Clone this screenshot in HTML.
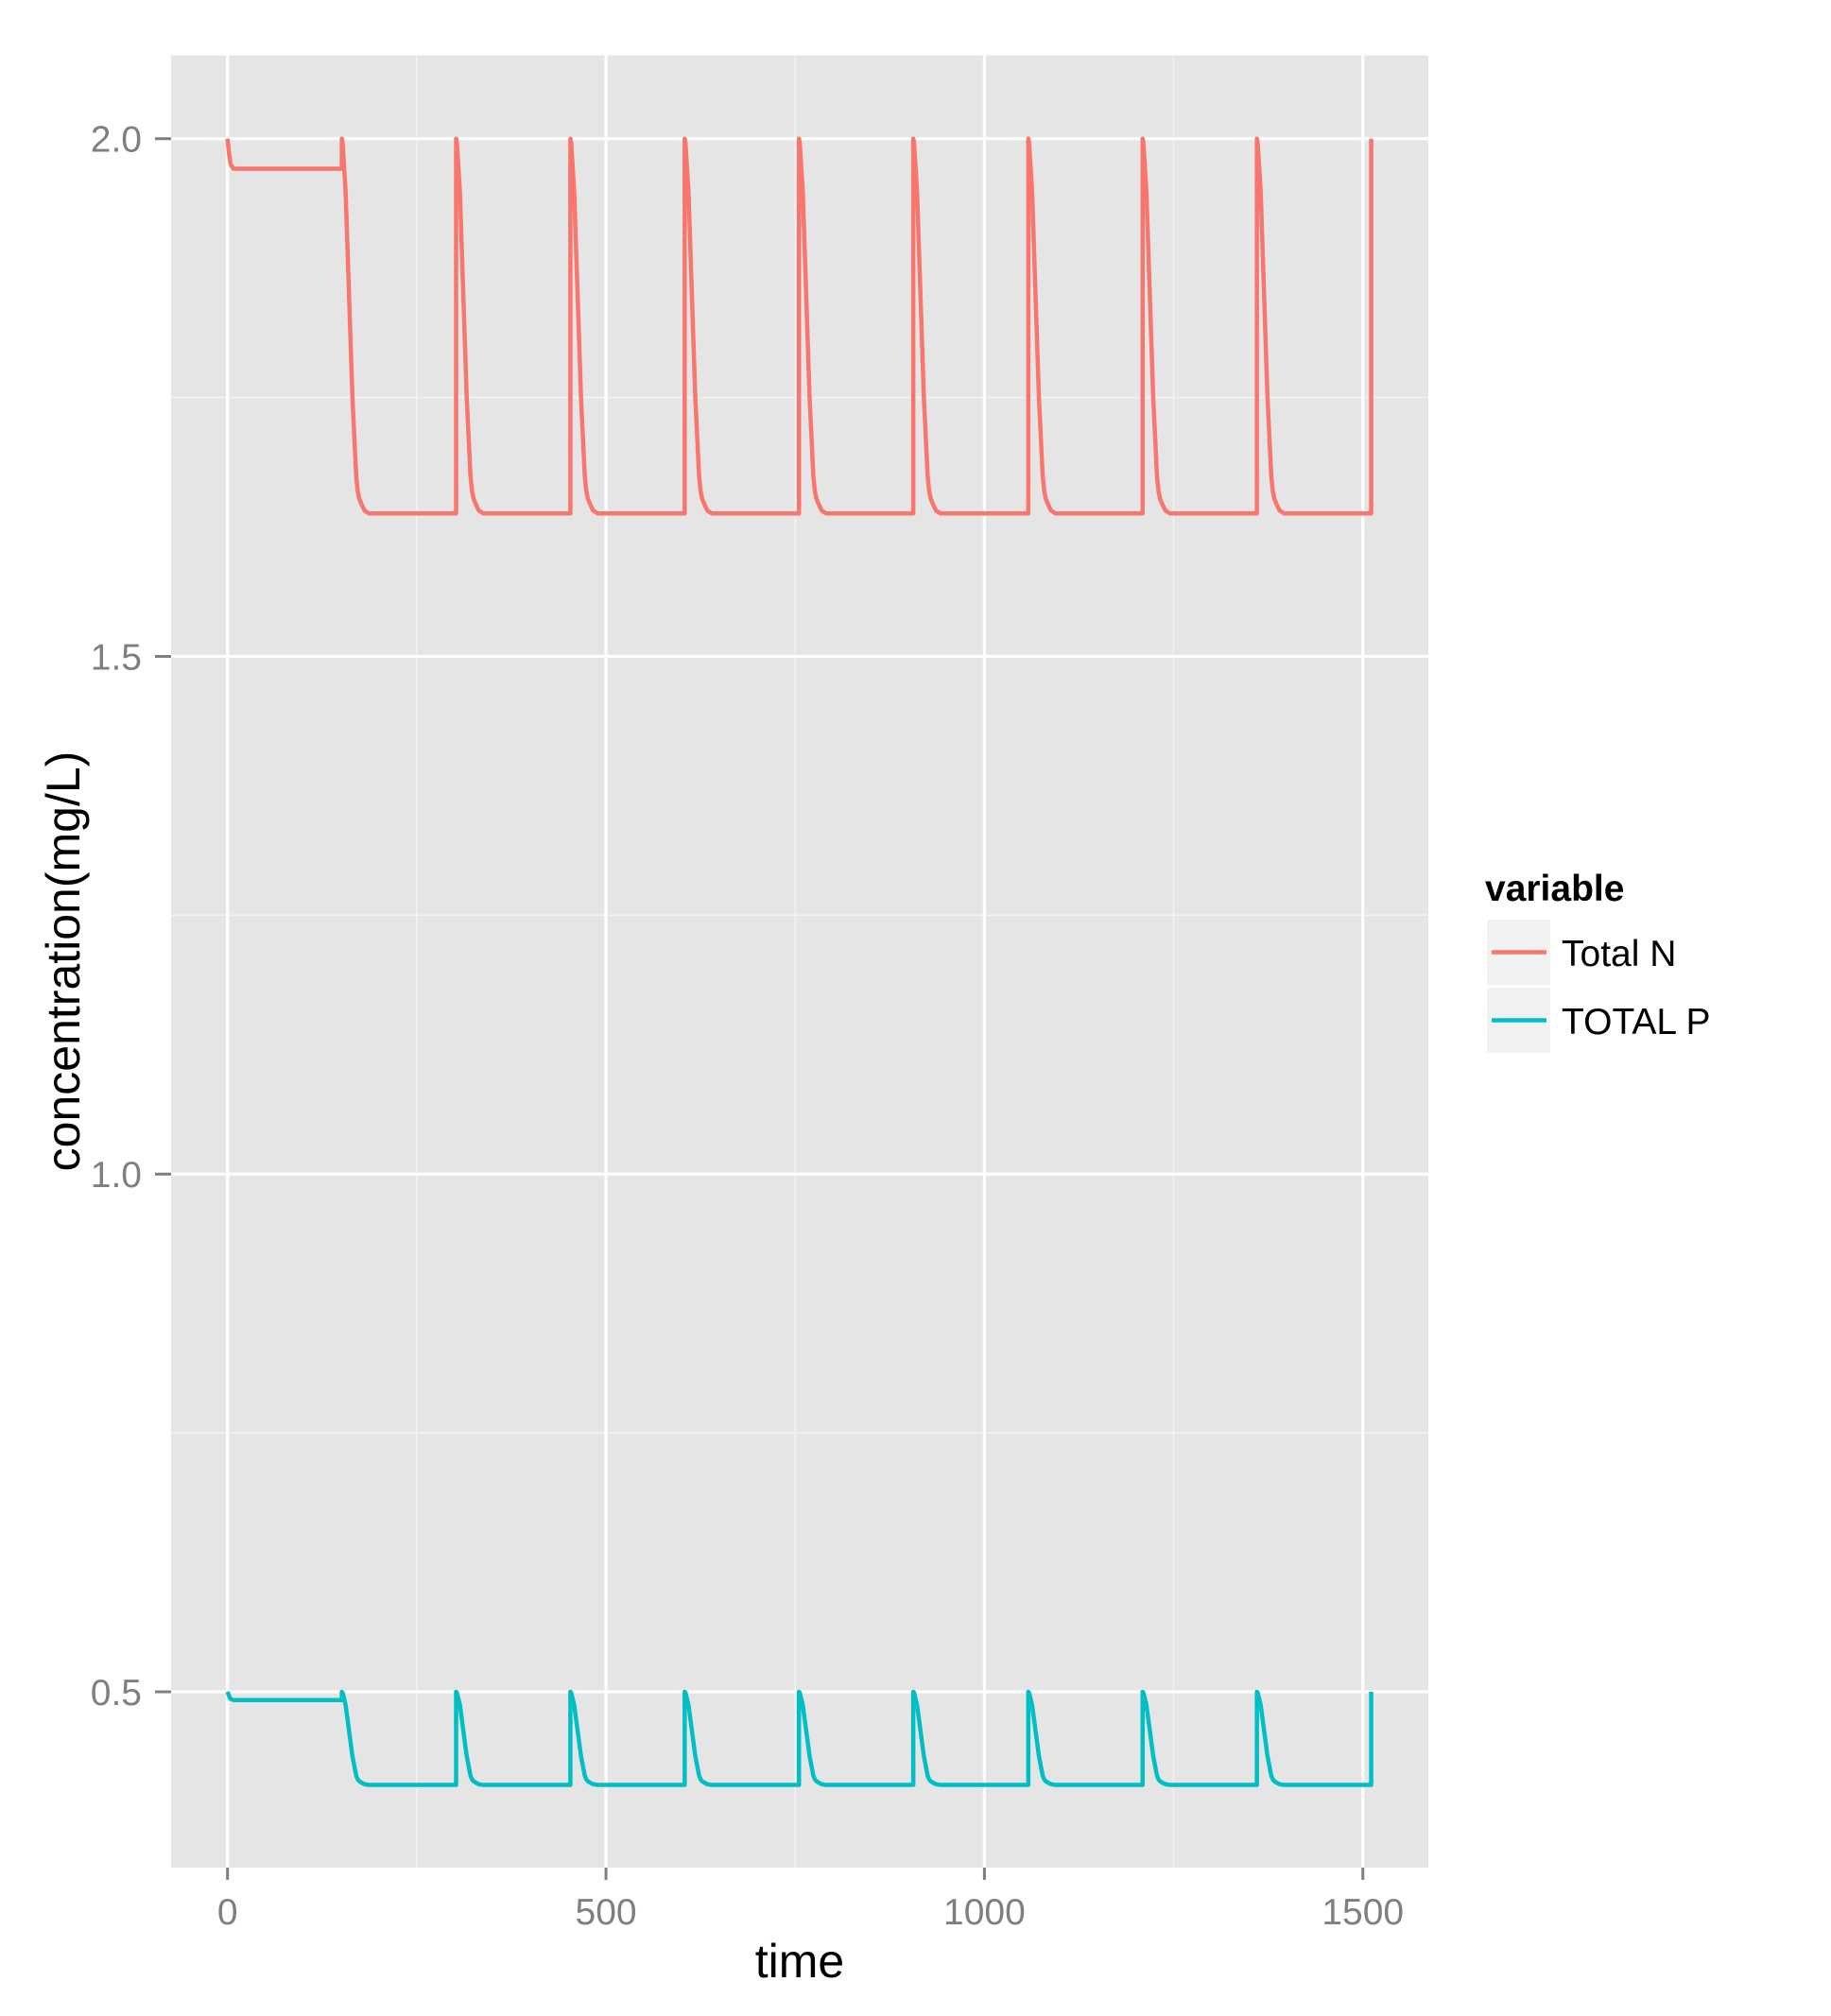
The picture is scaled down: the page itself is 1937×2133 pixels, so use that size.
<!DOCTYPE html>
<html><head><meta charset="utf-8"><style>
html,body{margin:0;padding:0;background:#fff;}
svg{display:block;font-family:"Liberation Sans",Arial,sans-serif;}
</style></head><body>
<svg id="chart" width="1937" height="2133" viewBox="0 0 1937 2133" xmlns="http://www.w3.org/2000/svg">
<rect x="0" y="0" width="1937" height="2133" fill="#ffffff"/>
<rect x="181" y="58.5" width="1330" height="1917.5" fill="#e5e5e5"/>
<g id="grid"></g>
<g id="series"></g>
<g id="axes"></g>
<text x="846" y="2092" font-size="50" text-anchor="middle" fill="#000">time</text>
<text transform="translate(84,1017) rotate(-90)" font-size="50" text-anchor="middle" fill="#000">concentration(mg/L)</text>
<g>
<text x="1571" y="953" font-size="39" font-weight="bold" fill="#000">variable</text>
<rect x="1573" y="973" width="67" height="69" fill="#f2f2f2"/>
<line x1="1578" y1="1007.5" x2="1636" y2="1007.5" stroke="#F8766D" stroke-width="4.5"/>
<text x="1652" y="1022" font-size="39" fill="#000">Total N</text>
<rect x="1573" y="1045" width="67" height="69" fill="#f2f2f2"/>
<line x1="1578" y1="1079.5" x2="1636" y2="1079.5" stroke="#00BFC4" stroke-width="4.5"/>
<text x="1652" y="1094" font-size="39" fill="#000">TOTAL P</text>
</g>
</svg>
<script>
const xTicks = [0, 500, 1000, 1500];
const xMinor = [250, 750, 1250];
const yTicks = [0.5, 1.0, 1.5, 2.0];
const yTickLabels = ["0.5", "1.0", "1.5", "2.0"];
const yMinor = [0.75, 1.25, 1.75];
const spikeTimes = [151, 302, 453, 604, 755, 906, 1058, 1209, 1360, 1511];
const decayDt = [0, 1, 5, 14, 19, 21, 23, 26, 30, 36];
const decayFrac = [1, 0.99, 0.86, 0.31, 0.10, 0.06, 0.04, 0.025, 0.008, 0];
const nHigh = 2.0, nLow = 1.638, nFirstPlateau = 1.971;
const pHigh = 0.5, pLow = 0.41, pFirstPlateau = 0.492;
const startDt = [0, 2, 4, 8];
const startFrac = [1, 0.5, 0.15, 0];

const NS = "http://www.w3.org/2000/svg";
const X0 = 240.7, XS = 0.8007, Y0 = 146.7, YS = 1095.5;
const PL = 181, PR = 1511, PT = 58.5, PB = 1976;
function xs(t){ return X0 + t * XS; }
function ys(v){ return Y0 + (2.0 - v) * YS; }
function mk(tag, attrs, parent){ const e = document.createElementNS(NS, tag); for (const k in attrs) e.setAttribute(k, attrs[k]); parent.appendChild(e); return e; }

const grid = document.getElementById('grid');
xMinor.forEach(t => {
  const l = mk('line', {x1: xs(t), x2: xs(t), y1: PT, y2: PB, stroke: '#f2f2f2', 'stroke-width': 1.6}, grid);
  
  
});
yMinor.forEach(v => {
  const l = mk('line', {x1: PL, x2: PR, y1: ys(v), y2: ys(v), stroke: '#f2f2f2', 'stroke-width': 1.6}, grid);
  
  
});
xTicks.forEach(t => {
  const l = mk('line', {x1: xs(t), x2: xs(t), y1: PT, y2: PB, stroke: '#ffffff', 'stroke-width': 3.2}, grid);
  
  
});
yTicks.forEach(v => {
  const l = mk('line', {x1: PL, x2: PR, y1: ys(v), y2: ys(v), stroke: '#ffffff', 'stroke-width': 3.2}, grid);
  
  
});

function buildSeries(high, low, first){
  const pts = [];
  startDt.forEach((d, i) => pts.push([d, first + startFrac[i] * (high - first)]));
  pts.push([spikeTimes[0], first]);
  spikeTimes.forEach((t0, k) => {
    if (k > 0) pts.push([t0, low]);
    if (k === spikeTimes.length - 1) { pts.push([t0, high]); return; }
    decayDt.forEach((d, i) => pts.push([t0 + d, low + decayFrac[i] * (high - low)]));
  });
  return pts;
}
const series = document.getElementById('series');
[[nHigh, nLow, nFirstPlateau, '#F8766D', 'total-n-line'], [pHigh, pLow, pFirstPlateau, '#00BFC4', 'total-p-line']].forEach(s => {
  const pts = buildSeries(s[0], s[1], s[2]);
  const d = pts.map((p, i) => (i ? 'L' : 'M') + xs(p[0]).toFixed(2) + ' ' + ys(p[1]).toFixed(2)).join(' ');
  const path = mk('path', {d: d, fill: 'none', stroke: s[3], 'stroke-width': 4.5, 'stroke-linejoin': 'round'}, series);
  
  
});

const axes = document.getElementById('axes');
xTicks.forEach(t => {
  const tk = mk('line', {x1: xs(t), x2: xs(t), y1: PB, y2: PB + 13, stroke: '#7f7f7f', 'stroke-width': 3}, axes);
  
  
  const tx = mk('text', {x: xs(t), y: 2036, 'font-size': 39, 'text-anchor': 'middle', fill: '#7f7f7f'}, axes);
  tx.textContent = String(t);
  
  
});
yTicks.forEach((v, i) => {
  const tk = mk('line', {x1: PL - 17, x2: PL, y1: ys(v), y2: ys(v), stroke: '#7f7f7f', 'stroke-width': 3}, axes);
  
  
  const tx = mk('text', {x: 150, y: ys(v) + 14, 'font-size': 39, 'text-anchor': 'end', fill: '#7f7f7f'}, axes);
  tx.textContent = yTickLabels[i];
  
  
});
</script>
</body></html>
